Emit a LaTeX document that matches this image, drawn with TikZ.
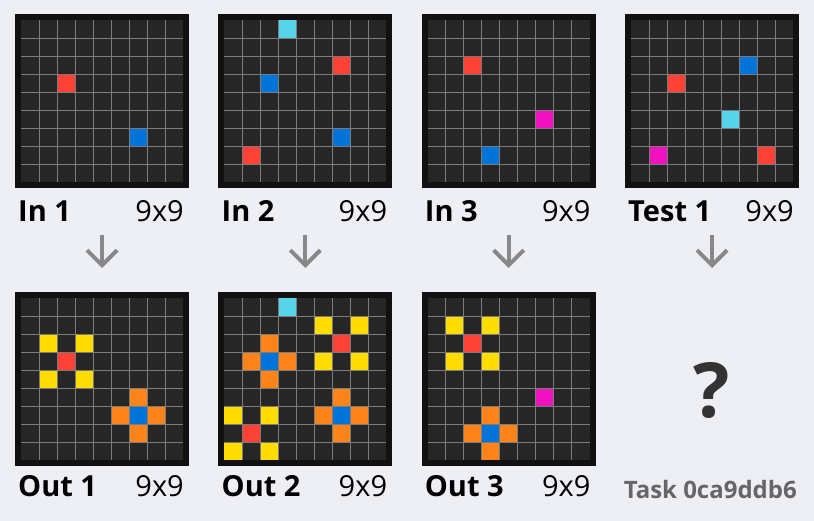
\documentclass[tikz,border=0pt]{standalone}
\usepackage{fontspec}
\setmainfont{Open Sans}
\usetikzlibrary{arrows.meta}
\definecolor{bg}{HTML}{EEEEF5}
\definecolor{framec}{HTML}{111111}
\definecolor{cellbg}{HTML}{262626}
\definecolor{gridc}{HTML}{7C7C7C}
\definecolor{arcR}{HTML}{FF4136}
\definecolor{arcB}{HTML}{0074D9}
\definecolor{arcY}{HTML}{FFDC00}
\definecolor{arcO}{HTML}{FF851B}
\definecolor{arcC}{HTML}{55D4EA}
\definecolor{arcM}{HTML}{F012BE}
\definecolor{arrowc}{HTML}{888888}
\definecolor{qmark}{HTML}{333333}
\definecolor{taskc}{HTML}{666666}
\tikzset{
  framebox/.style={rectangle, fill=framec, inner sep=0pt, minimum width=174pt, minimum height=174pt},
  gridline/.style={draw=gridc, line width=0.8pt},
  namelab/.style={font=\bfseries\fontsize{29}{29}\selectfont, text=black, inner sep=0pt, anchor=base west},
  sizelab/.style={font=\fontsize{29}{29}\selectfont, text=black, inner sep=0pt, anchor=base east},
  flowarrow/.style={draw=arrowc, line width=4pt, -{Straight Barb[length=15pt,width=30pt,line width=4pt]}},
}
\newcommand{\arcgrid}[4]{%
  \node[framebox] (#1) at (#2+87,#3+87) {};
  \fill[cellbg] (#2+6,#3+6) rectangle ++(162,162);
  \foreach \c/\i/\j in {#4} {\fill[\c] (#2+6+18*\i,#3+6+18*\j) rectangle ++(18,18);}
  \foreach \k in {1,...,8} {
    \draw[gridline] (#2+6+18*\k,#3+6) -- ++(0,162);
    \draw[gridline] (#2+6,#3+6+18*\k) -- ++(162,0);
  }
}
\begin{document}
\begin{tikzpicture}[x=1pt,y=-1pt]
\fill[bg] (0,0) rectangle (814,521);
\useasboundingbox (0,0) rectangle (814,521);
% top row
\arcgrid{in1}{15}{14}{arcR/2/3, arcB/6/6}
\arcgrid{in2}{218.3}{14}{arcC/3/0, arcR/6/2, arcB/2/3, arcB/6/6, arcR/1/7}
\arcgrid{in3}{421.7}{14}{arcR/2/2, arcM/6/5, arcB/3/7}
\arcgrid{test1}{625}{14}{arcB/6/2, arcR/2/3, arcC/5/5, arcM/1/7, arcR/7/7}
% bottom row
\arcgrid{out1}{15}{292}{arcY/1/2, arcY/3/2, arcR/2/3, arcY/1/4, arcY/3/4,
  arcO/6/5, arcO/5/6, arcB/6/6, arcO/7/6, arcO/6/7}
\arcgrid{out2}{218.3}{292}{arcC/3/0, arcY/5/1, arcY/7/1, arcR/6/2, arcY/5/3, arcY/7/3,
  arcO/2/2, arcO/1/3, arcB/2/3, arcO/3/3, arcO/2/4,
  arcO/6/5, arcO/5/6, arcB/6/6, arcO/7/6, arcO/6/7,
  arcY/0/6, arcY/2/6, arcR/1/7, arcY/0/8, arcY/2/8}
\arcgrid{out3}{421.7}{292}{arcY/1/1, arcY/3/1, arcR/2/2, arcY/1/3, arcY/3/3,
  arcM/6/5, arcO/3/6, arcO/2/7, arcB/3/7, arcO/4/7, arcO/3/8}
% labels
\node[namelab] (lin1) at (18,221.5) {In 1};
\node[sizelab] (sin1) at (184,221.5) {9x9};
\node[namelab] (lin2) at (221.5,221.5) {In 2};
\node[sizelab] (sin2) at (387.3,221.5) {9x9};
\node[namelab] (lin3) at (424.7,221.5) {In 3};
\node[sizelab] (sin3) at (590.7,221.5) {9x9};
\node[namelab] (ltest1) at (628,221.5) {Test 1};
\node[sizelab] (stest1) at (794,221.5) {9x9};
\node[namelab] (lout1) at (18,496.5) {Out 1};
\node[sizelab] (sout1) at (184,496.5) {9x9};
\node[namelab] (lout2) at (221.5,496.5) {Out 2};
\node[sizelab] (sout2) at (387.3,496.5) {9x9};
\node[namelab] (lout3) at (424.7,496.5) {Out 3};
\node[sizelab] (sout3) at (590.7,496.5) {9x9};
% arrows
\foreach \n/\xx in {1/102, 2/305.3, 3/508.7, 4/712} {
  \coordinate (as\n) at (\xx,235);
  \coordinate (ae\n) at (\xx,268);
  \draw[flowarrow] (as\n) -- (ae\n);
}
% question mark and task
\node[font=\bfseries\fontsize{76}{76}\selectfont, text=qmark, inner sep=0pt, anchor=base] (qm) at (712,417) {?};
\node[font=\bfseries\fontsize{24}{24}\selectfont, text=taskc, inner sep=0pt, anchor=base east] (task) at (797,498) {Task 0ca9ddb6};
\end{tikzpicture}
\end{document}
